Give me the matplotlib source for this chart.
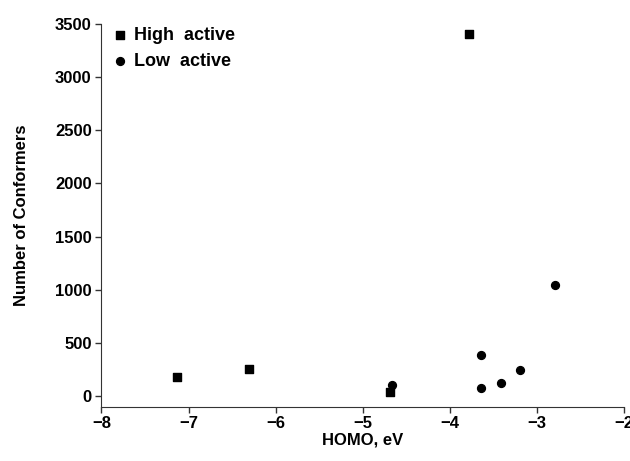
import numpy as np
import matplotlib.pyplot as plt

plt.rcParams['font.family'] = ['Liberation Sans', 'DejaVu Sans']
plt.rcParams['font.weight'] = 'bold'

# data
high_homo = [-7.13, -6.31, -4.69, -3.78]
high_conf = [175, 253, 35, 3410]
low_homo = [-4.67, -3.64, -3.64, -3.41, -3.20, -2.80]
low_conf = [105, 384, 75, 119, 244, 1040]

fig = plt.figure(figsize=(6.3, 4.61), dpi=100)
ax = fig.add_axes([0.161, 0.118, 0.830, 0.830])

ax.scatter(high_homo, high_conf, marker='s', s=32, color='black', label='High  active')
ax.scatter(low_homo, low_conf, marker='o', s=32, color='black', label='Low  active')

ax.set_xlim(-8, -2)
ax.set_ylim(-100, 3500)
ax.set_xticks(np.arange(-8, -1, 1))
ax.set_yticks(np.arange(0, 3501, 500))
ax.spines['top'].set_visible(False)
ax.spines['right'].set_visible(False)
ax.spines['left'].set_color('#333333')
ax.spines['bottom'].set_color('#333333')
ax.tick_params(direction='out', length=4, width=1, labelsize=12, colors='#333333',
               labelcolor='black', pad=3)
for lbl in ax.get_xticklabels() + ax.get_yticklabels():
    lbl.set_fontweight('bold')

ax.set_xlabel('HOMO, eV', fontsize=12, fontweight='bold', labelpad=1)
ax.set_ylabel('Number of Conformers', fontsize=12, fontweight='bold', labelpad=19)

ax.legend(loc='upper left', bbox_to_anchor=(-0.013, 1.035), frameon=False,
          handletextpad=0.3, labelspacing=0.5, handlelength=1.0,
          prop={'weight': 'bold', 'size': 13})

fig.savefig('out.png', dpi=100)
